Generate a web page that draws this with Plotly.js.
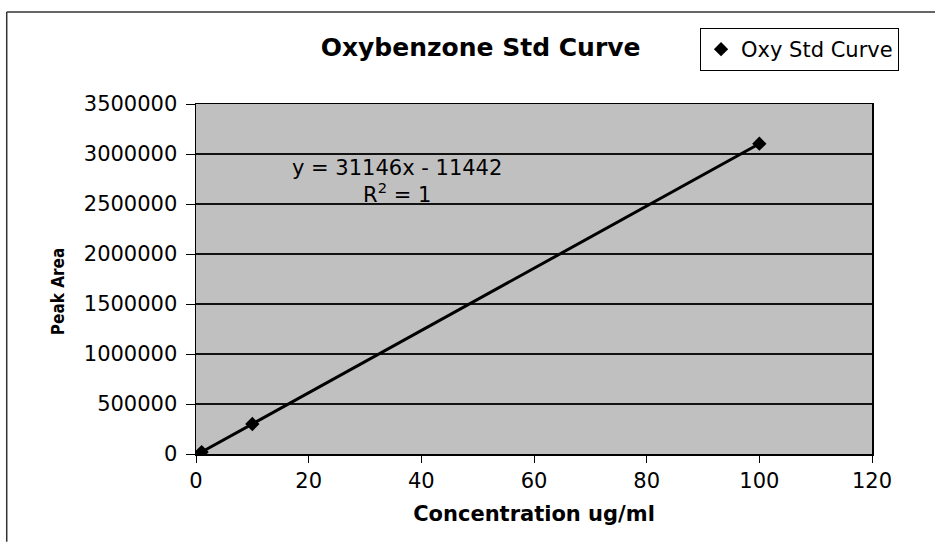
<!DOCTYPE html>
<html>
<head>
<meta charset="utf-8">
<script src="https://cdn.plot.ly/plotly-3.0.1.min.js"></script>
<style>html,body{margin:0;padding:0;background:#fff;}#chart{width:935px;height:542px;}</style>
</head>
<body>
<div id="chart"></div>
<script>
// Data
const concentration = [1, 10, 100];
const peakArea = [19700, 300000, 3103000];
const seriesName = 'Oxy Std Curve';
const trendText = 'y = 31146x - 11442<br>R<sup>2</sup> = 1';
const xTickVals = [0, 20, 40, 60, 80, 100, 120];
const yTickVals = [0, 500000, 1000000, 1500000, 2000000, 2500000, 3000000, 3500000];

const F = 'DejaVu Sans, Arial, sans-serif';
const FN = 'Liberation Sans Narrow, DejaVu Sans Condensed, Arial Narrow, sans-serif';

const traces = [
  {
    x: concentration, y: peakArea, type: 'scatter', mode: 'lines',
    line: {color: '#000', width: 3}, showlegend: false, hoverinfo: 'skip'
  },
  {
    x: concentration, y: peakArea, type: 'scatter', mode: 'markers', name: seriesName,
    marker: {symbol: 'diamond', size: 11, color: '#000'}
  }
];

const layout = {
  width: 935, height: 542,
  margin: {l: 196, r: 63, t: 104, b: 88},
  paper_bgcolor: '#fff',
  plot_bgcolor: '#c0c0c0',
  font: {family: F, color: '#000', size: 20},
  title: {
    text: '<b>Oxybenzone Std Curve</b>',
    font: {family: F, size: 25, color: '#000'},
    x: 0.514, xref: 'container', xanchor: 'center',
    y: 0.912, yref: 'container', yanchor: 'middle'
  },
  xaxis: {
    range: [0, 120], tickvals: xTickVals, ticks: 'outside', ticklen: 7, tickcolor: '#000',
    showline: true, linecolor: '#000', linewidth: 1.5, mirror: true, showgrid: false, zeroline: false,
    tickfont: {family: F, size: 21, color: '#000'},
    title: {text: '<b>Concentration ug/ml</b>', font: {family: F, size: 21, color: '#000'}, standoff: 14}
  },
  yaxis: {
    range: [0, 3500000], tickvals: yTickVals, ticks: 'outside', ticklen: 9, tickcolor: '#000',
    ticklabelstandoff: 4,
    showline: true, linecolor: '#000', linewidth: 1.5, mirror: true,
    showgrid: true, gridcolor: '#111', gridwidth: 1.2, zeroline: false,
    tickfont: {family: F, size: 21, color: '#000'}, tickformat: 'd'
  },
  legend: {
    x: 1.04, xanchor: 'right', y: 1.217, yanchor: 'top',
    bgcolor: '#fff', bordercolor: '#000', borderwidth: 1,
    font: {family: F, size: 21, color: '#000'},
    itemwidth: 30
  },
  annotations: [
    {
      text: trendText, xref: 'x', yref: 'y', x: 35.7, y: 2730000,
      showarrow: false, align: 'center', font: {family: F, size: 21, color: '#000'}
    },
    {
      text: '<b>Peak Area</b>', xref: 'paper', yref: 'paper', x: -0.222, y: 0.465,
      textangle: -90, showarrow: false, font: {family: FN, size: 17, color: '#000'}
    }
  ],
  shapes: [
    {type: 'line', xref: 'paper', yref: 'paper', x0: -0.280, x1: 1.095, y0: 1.263, y1: 1.263, line: {color: '#333', width: 1.5}},
    {type: 'line', xref: 'paper', yref: 'paper', x0: -0.280, x1: -0.280, y0: 1.263, y1: -0.251, line: {color: '#333', width: 1.5}}
  ]
};

Plotly.newPlot('chart', traces, layout, {displayModeBar: false, staticPlot: true});
</script>
</body>
</html>
